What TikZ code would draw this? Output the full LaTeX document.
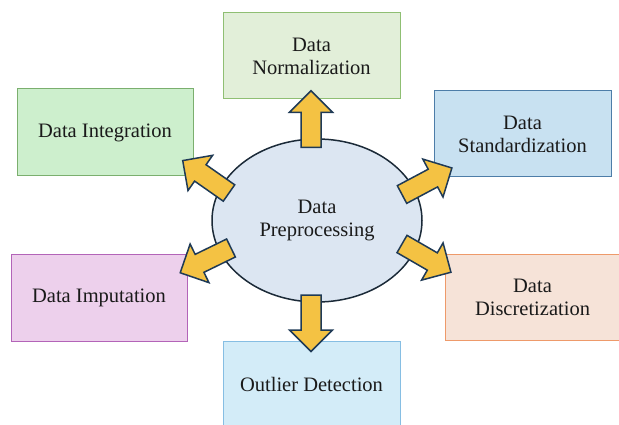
\documentclass[tikz,border=0pt]{standalone}
\usepackage{fontspec}
\setmainfont{Liberation Serif}
\usetikzlibrary{shapes.geometric,calc}

\definecolor{normfill}{HTML}{E2EFD9}\definecolor{normline}{HTML}{8FBF73}
\definecolor{intfill}{HTML}{CDEFCD}\definecolor{intline}{HTML}{7BAF6E}
\definecolor{stdfill}{HTML}{C8E1F1}\definecolor{stdline}{HTML}{4D7DA8}
\definecolor{impfill}{HTML}{EDD0EC}\definecolor{impline}{HTML}{B364B8}
\definecolor{disfill}{HTML}{F6E3D8}\definecolor{disline}{HTML}{EE9A6A}
\definecolor{outfill}{HTML}{D3ECF8}\definecolor{outline}{HTML}{86BEE3}
\definecolor{hubfill}{HTML}{DCE6F2}\definecolor{hubline}{HTML}{1B2A38}
\definecolor{arrfill}{HTML}{F4C243}\definecolor{arrline}{HTML}{1F3A56}
\definecolor{ink}{HTML}{1A1A1A}

\tikzset{
  every node/.style={text=ink, font=\fontsize{20.5}{23}\selectfont, align=center},
  stage/.style={rectangle, draw, line width=1pt, inner sep=0pt},
  hub/.style={ellipse, draw=hubline, fill=hubfill, line width=1.5pt,
    minimum width=210pt, minimum height=163pt, inner sep=0pt},
  arrowbody/.style={fill=arrfill, draw=arrline, line width=1.5pt, line join=miter},
  fatarrow/.pic={
    \draw[arrowbody] (0,-10) -- (35,-10) -- (35,-21.5) -- (56.5,0)
      -- (35,21.5) -- (35,10) -- (0,10) -- cycle;
  }
}

\begin{document}
\begin{tikzpicture}[x=1pt,y=-1pt]
\useasboundingbox (0,0) rectangle (619,425);

% surrounding stages
\node[stage, draw=normline, fill=normfill, minimum width=177pt, minimum height=86pt]
  (norm) at (311.5,56) {Data\\Normalization};
\node[stage, draw=intline, fill=intfill, minimum width=176pt, minimum height=87pt]
  (integ) at (105,132.5) {Data Integration};
\node[stage, draw=stdline, fill=stdfill, minimum width=177pt, minimum height=86pt]
  (stand) at (522.5,134) {Data\\Standardization};
\node[stage, draw=impline, fill=impfill, minimum width=176pt, minimum height=87pt]
  (imput) at (99,297.5) {Data Imputation};
\node[stage, draw=disline, fill=disfill, minimum width=175pt, minimum height=86pt]
  (discr) at (532.5,297) {Data\\Discretization};
\node[stage, draw=outline, fill=outfill, minimum width=177pt, minimum height=87pt]
  (outl) at (311.5,384.5) {Outlier Detection};

% central step
\node[hub] (pre) at (317,220.5) {Data\\Preprocessing};

% arrow tails around the hub
\coordinate (tN)  at ($(pre.center)+(-6,-73.2)$);
\coordinate (tS)  at ($(pre.center)+(-6,74.5)$);
\coordinate (tNW) at ($(pre.center)+(-88,-27.5)$);
\coordinate (tNE) at ($(pre.center)+(85,-26)$);
\coordinate (tSW) at ($(pre.center)+(-86,27.5)$);
\coordinate (tSE) at ($(pre.center)+(85,23.5)$);

\pic[rotate=90]  at (tN)  {fatarrow};
\pic[rotate=-90] at (tS)  {fatarrow};
\pic[rotate=145] at (tNW) {fatarrow};
\pic[rotate=28]  at (tNE) {fatarrow};
\pic[rotate=206] at (tSW) {fatarrow};
\pic[rotate=-30] at (tSE) {fatarrow};
\end{tikzpicture}
\end{document}
